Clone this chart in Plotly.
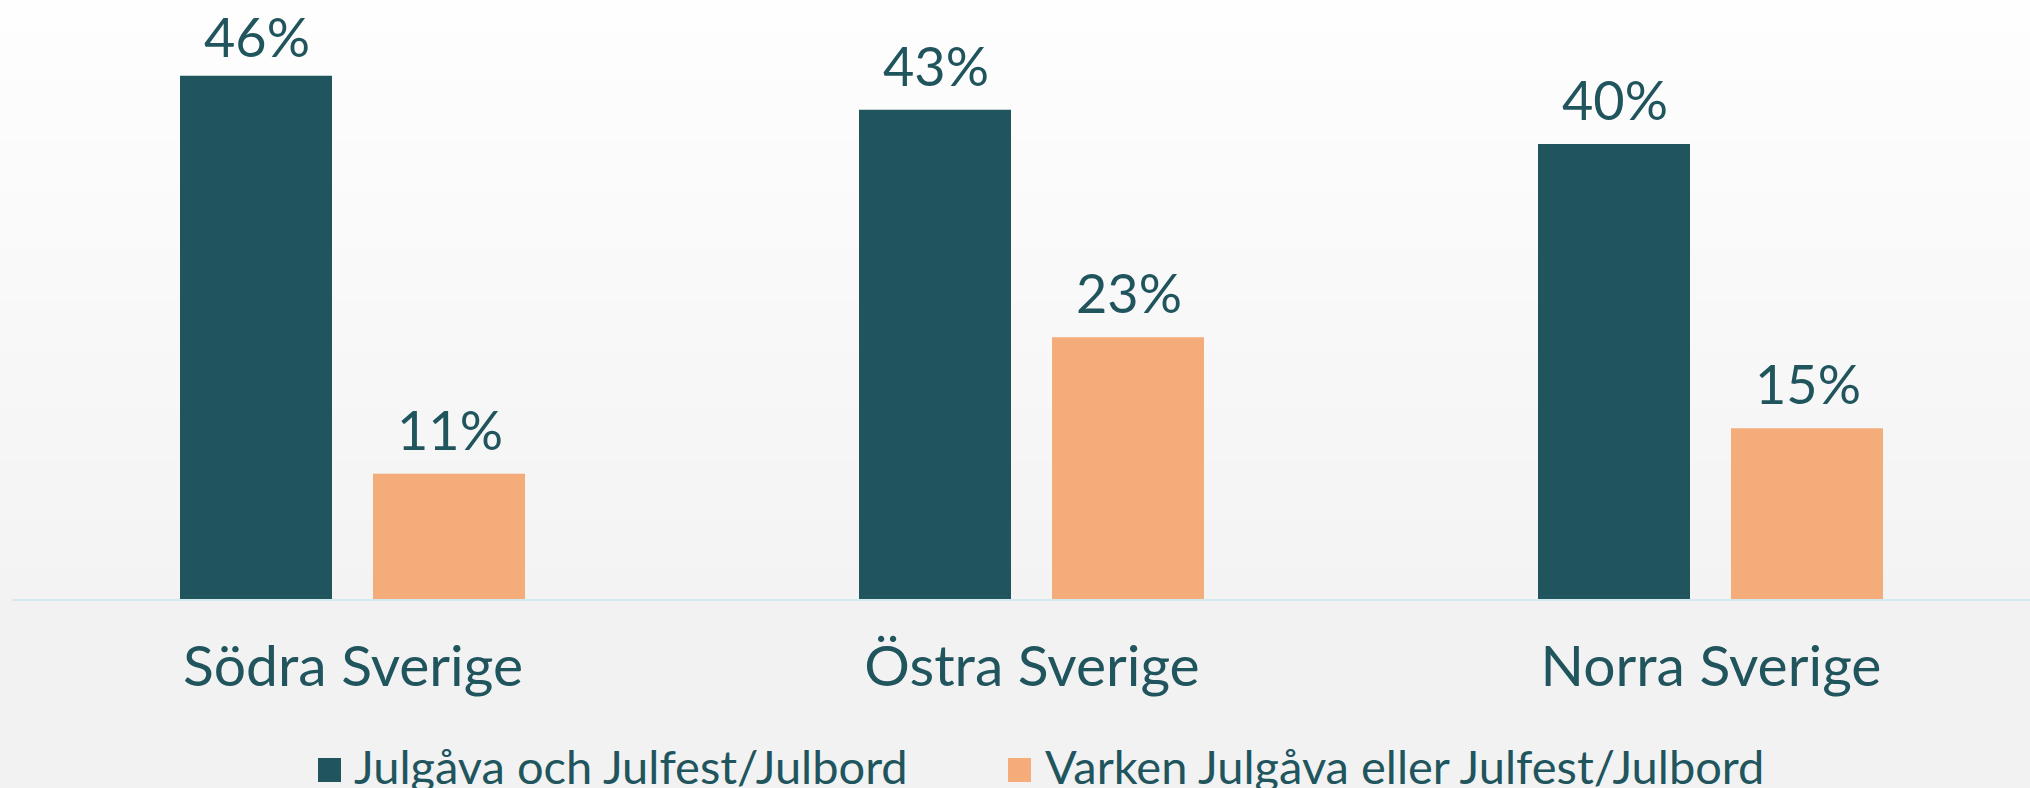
import plotly.graph_objects as go

# ---- data ----
categories = ["Södra Sverige", "Östra Sverige", "Norra Sverige"]
series_names = ["Julgåva och Julfest/Julbord", "Varken Julgåva eller Julfest/Julbord"]
julgava_och_julfest = [46, 43, 40]
varken = [11, 23, 15]

# ---- style ----
W, H = 2030, 788
ML, MR, MT, MB = 12, 0, 0, 189
PLOT_W = W - ML - MR
PLOT_H = H - MT - MB
TEAL = "#21555e"
ORANGE = "#f5ac7b"
FONT = "Lato"
YMAX = 52.65
CAT_PX = 679.0
X0 = -(353 - ML) / CAT_PX
XRANGE = [X0, X0 + PLOT_W / CAT_PX]
BAR_W = 152 / CAT_PX

fig = go.Figure()
fig.add_trace(go.Bar(x=categories, y=julgava_och_julfest, name=series_names[0],
                     marker=dict(color=TEAL, line=dict(width=0)),
                     width=BAR_W, offset=-173 / CAT_PX, showlegend=False))
fig.add_trace(go.Bar(x=categories, y=varken, name=series_names[1],
                     marker=dict(color=ORANGE, line=dict(width=0)),
                     width=BAR_W, offset=20 / CAT_PX, showlegend=False))

px_per = PLOT_H / YMAX
annotations = []
for vals, xs in ((julgava_och_julfest, -96.5), (varken, 96.5)):
    for c, v in zip(categories, vals):
        bartop = (YMAX - v) * px_per
        gap = min(24, bartop - 57)
        annotations.append(dict(x=c, y=v, xref="x", yref="y", text=f"{v}%",
                                showarrow=False, xshift=xs, yshift=gap - 14,
                                yanchor="bottom", xanchor="center",
                                font=dict(family=FONT, size=54, color=TEAL)))

def px_x(p):
    return (p - ML) / PLOT_W

def px_y(p):
    return (MT + PLOT_H - p) / PLOT_H

# manual legend
shapes = []
legend_items = [(318, 352, TEAL, series_names[0]), (1008, 1043, ORANGE, series_names[1])]
for sq_x, tx, col, name in legend_items:
    shapes.append(dict(type="rect", xref="paper", yref="paper",
                       x0=px_x(sq_x), x1=px_x(sq_x + 23), y0=px_y(782), y1=px_y(758),
                       fillcolor=col, line=dict(width=0), layer="above"))
    annotations.append(dict(x=px_x(tx), y=px_y(766), xref="paper", yref="paper",
                            text=name, showarrow=False, xanchor="left", yanchor="middle",
                            font=dict(family=FONT, size=47, color=TEAL)))

# background gradient bands
N = 60
top_c, bot_c = (254, 254, 254), (243, 243, 243)
for i in range(N):
    t = (i + 0.5) / N
    c = tuple(round(top_c[k] + (bot_c[k] - top_c[k]) * t) for k in range(3))
    y_top = 600 * i / N
    y_bot = 600 * (i + 1) / N + 1
    shapes.append(dict(type="rect", xref="paper", yref="paper",
                       x0=px_x(0), x1=px_x(W), y0=px_y(y_bot), y1=px_y(y_top),
                       fillcolor="rgb(%d,%d,%d)" % c, line=dict(width=0), layer="below"))

fig.update_layout(
    width=W, height=H,
    margin=dict(l=ML, r=MR, t=MT, b=MB, pad=0),
    paper_bgcolor="#f2f2f2", plot_bgcolor="rgba(0,0,0,0)",
    barmode="overlay",
    showlegend=False,
    hovermode=False,
    annotations=annotations,
    shapes=shapes,
    xaxis=dict(type="category", range=XRANGE, showgrid=False, zeroline=False,
               showline=True, linecolor="#d3eaef", linewidth=2,
               ticks="outside", ticklen=17, tickcolor="rgba(0,0,0,0)",
               tickfont=dict(family=FONT, size=57, color=TEAL)),
    yaxis=dict(range=[0, YMAX], visible=False, showgrid=False, zeroline=False),
    font=dict(family=FONT, color=TEAL),
)

fig.write_html("out.html", config={"displayModeBar": False, "staticPlot": True},
               post_script="document.body.style.margin='0';document.body.style.overflow='hidden';")
